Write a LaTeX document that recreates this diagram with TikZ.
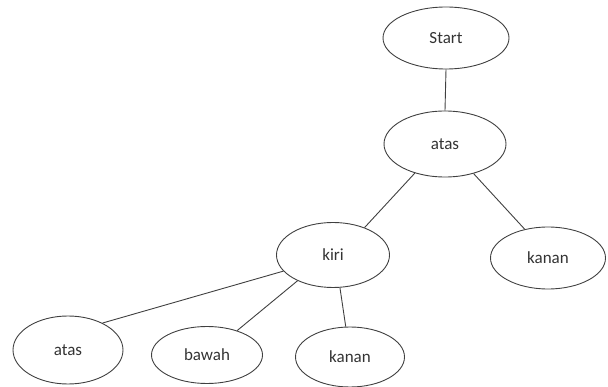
\documentclass[tikz,border=0pt]{standalone}
\usepackage{fontspec}
\setmainfont{Carlito}
\usetikzlibrary{shapes.geometric}
\begin{document}
\begin{tikzpicture}[x=1pt,y=-1pt,
  oval/.style={ellipse,draw=black!75,line width=0.9pt,inner sep=0pt,font=\fontsize{17}{20}\selectfont,text=black!80},
  edge/.style={draw=black!75,line width=0.9pt}]
\useasboundingbox (0,0) rectangle (608,387);
\node[oval,minimum width=126pt,minimum height=62pt] (start) at (446,38) {Start};
\node[oval,minimum width=122pt,minimum height=66pt] (atas) at (445,144) {atas};
\node[oval,minimum width=113pt,minimum height=65pt] (kiri) at (333,255) {kiri};
\node[oval,minimum width=115pt,minimum height=62pt] (kananR) at (548,258) {kanan};
\node[oval,minimum width=110pt,minimum height=68pt] (atasB) at (68,350) {atas};
\node[oval,minimum width=111pt,minimum height=57pt] (bawah) at (207,355) {bawah};
\node[oval,minimum width=109pt,minimum height=60pt] (kananB) at (350,357) {kanan};
\draw[edge] (start.south) -- (atas.north);
\draw[edge] (atas.224) -- (kiri.41);
\draw[edge] (atas.314) -- (kananR.129);
\draw[edge] (kiri.198) -- (atasB.38);
\draw[edge] (kiri.216) -- (bawah.39);
\draw[edge] (kiri.282) -- (kananB.98);
\end{tikzpicture}
\end{document}
